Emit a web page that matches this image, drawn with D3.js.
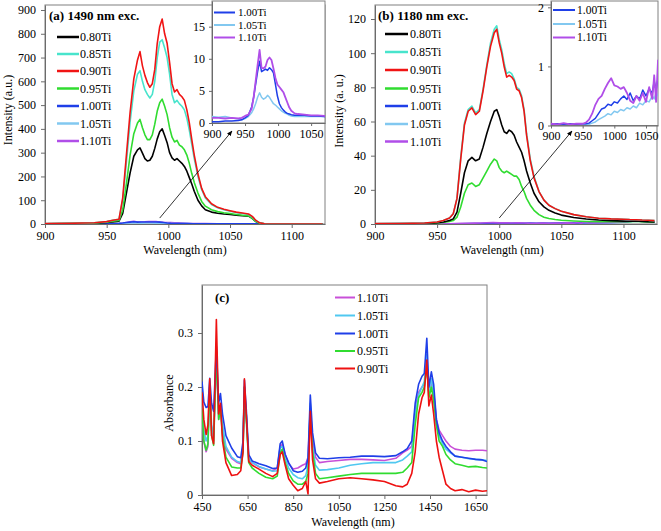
<!DOCTYPE html>
<html><head><meta charset="utf-8">
<script src="https://cdn.jsdelivr.net/npm/d3@7"></script>
<style>
body{margin:0;background:#fff}
text{font-family:"Liberation Serif","Times New Roman",serif;fill:#000}
</style>
</head><body><script>
// ---------------- DATA ----------------
const seriesNames = ["0.80Ti","0.85Ti","0.90Ti","0.95Ti","1.00Ti","1.05Ti","1.10Ti"];
const seriesColors = {"0.80Ti":"#000000","0.85Ti":"#48e4cc","0.90Ti":"#f01414","0.95Ti":"#30dc30","1.00Ti":"#1f3fe8","1.05Ti":"#82c8f0","1.10Ti":"#b04ee8"};
const colorsC = {"1.10Ti":"#c850d8","1.05Ti":"#50c8f0","1.00Ti":"#1f3fe8","0.95Ti":"#30dc30","0.90Ti":"#ee1111"};

// Panel (a) 1490 nm excitation
const waveA = [900,920,940,950,955,960,963,966,969,972,975,977,979,981,983,985,987,989,991,993,995,997,999,1001,1003,1005,1007,1009,1011,1013,1015,1017,1019,1021,1024,1027,1030,1035,1040,1045,1050,1055,1060,1065,1068,1071,1074,1078,1090,1110,1125];
const a080 = [1,2,3,6,9, 12,45,130,215,285, 312,320,298,275,265, 268,285,318,358,388, 400,372,342,300,278, 268,275,265,255,242, 222,195,168,138,100, 76,60,50,45,42, 40,37,35,33,24, 10,3,1,0,0, 0];
const a085 = [2,3,5,10,16, 20,100,260,430,560, 630,645,600,565,545, 530,545,600,700,765, 775,740,700,630,545, 510,520,505,495,480, 445,395,335,275,200, 145,110,82,68,60, 54,48,44,40,30, 14,5,1,0,0, 0];
const a090 = [2,3,5,10,16, 20,110,290,470,610, 690,725,665,625,595, 575,590,650,760,830, 862,800,760,680,590, 555,565,545,535,520, 480,425,355,290,210, 150,115,85,70,62, 56,50,46,42,32, 15,5,1,0,0, 0];
const a095 = [1,2,4,8,12, 15,60,170,290,380, 425,440,405,375,355, 355,375,420,475,510, 525,495,460,405,365, 345,352,332,325,312, 290,255,212,175,130, 95,75,60,52,47, 44,40,37,34,24, 10,3,1,0,0, 0];
const waveALow = [900,910,920,930,940,945,950,955,960,963,966,969,972,975,978,981,984,987,990,993,996,999,1002,1005,1008,1011,1014,1017,1020,1025,1030,1040,1050,1060,1070,1080,1100,1125];
const a100 = [0.2,0.2,0.3,0.3,0.4, 0.5,0.8,1.2,2.5,4, 6,8,9.6,8,8.2, 8.4,8.2,8.6,8.3,7.8, 6,4.2,3,2.4,2, 1.7,1.5,1.4,1.3,1.2, 1.2,1.2,1.1,1.1,1.0, 0.9,0.4,0.2];
const a105 = [1.0,0.9,1.0,0.8,0.6, 0.5,0.7,1.0,1.6,2.2, 3,4,4.7,4,3.7, 3.9,4.3,4,3.5,3, 2.8,2.5,2.2,1.9,1.7, 1.5,1.4,1.2,1.1,1.0, 1.0,1.0,1.0,1.0,1.0, 0.9,0.4,0.2];
const a110 = [0.8,0.8,0.7,0.8,0.7, 0.8,1.1,1.3,2.2,4, 6.5,9,11.4,8.6,8.5, 8.8,9.8,10.2,9.8,8.5, 7,6,5.6,5.2,4.8, 4,3.2,2.4,1.9,1.5, 1.4,1.3,1.2,1.2,1.1, 1.0,0.5,0.3];

// Panel (b) 1180 nm excitation
const waveB = [900,920,940,950,955,960,963,966,969,972,975,978,981,984,987,990,993,996,998,1000,1002,1004,1006,1008,1010,1012,1014,1016,1018,1020,1022,1025,1028,1032,1036,1040,1045,1050,1060,1070,1080,1090,1100,1105,1110,1115,1120,1125];
const b080 = [0.1,0.2,0.4,0.8,1.2, 2,3,7,18,30, 37,39,37,38,45, 53,60,66,67,63, 58,54,53,55,54, 52,48,45,42,37, 31,24,18,13,10, 8,6.5,5.2,3.8,2.9, 2.3,2,1.7,1.6,1.8, 1.5,1.3,1.2];
const b085 = [0.2,0.3,0.6,1.2,2, 3.5,6,15,39,59, 67,69,65,67,79, 93,106,114,116,108, 102,94,88,89,88, 85,80,79,75,67, 53,38,28,19,14, 11,9,7.5,5.5,4.2, 3.4,3,2.8,2.6,2.5, 2.3,2.2,2];
const b090 = [0.2,0.3,0.6,1.2,2, 3.5,6,15,38,58, 66,68,64,66,78, 92,104,112,114,106, 100,92,86,87,86, 84,79,78,74,66, 52,37,27,19,14, 11,9,7.5,5.5,4.2, 3.4,3,2.8,2.6,2.5, 2.3,2.2,2];
const b095 = [0.1,0.15,0.3,0.6,0.9, 1.5,2,4,10,18, 23,24,22,23,27, 31,35,38,37,33, 31,30,31,30,29, 28,28,26,22,19, 15,11,8,5.5,4, 3.2,2.6,2.2,1.8,1.5, 1.4,1.3,1.3,1.4,1.6, 1.4,1.2,1];
const waveBLow = [900,910,920,930,940,950,955,960,965,970,975,980,985,990,995,1000,1005,1010,1015,1020,1025,1030,1035,1040,1045,1050,1055,1060,1063,1066,1069,1072,1080,1090,1100,1105,1110,1115,1120,1125];
const b100 = [0.02,0.03,0.02,0.03,0.02,0.03, 0.03,0.04,0.08,0.12,0.2, 0.28,0.3,0.36,0.34,0.4, 0.38,0.45,0.5,0.44,0.55, 0.42,0.5,0.45,0.6,0.5, 0.62,0.55,0.75,0.6,0.8, 0.7,0.8,0.9,1.1,1.5, 1.8,1.6,1.3,1.0];
const b105 = [0.02,0.03,0.02,0.02,0.03,0.02, 0.02,0.02,0.04,0.06,0.1, 0.13,0.16,0.2,0.18,0.24, 0.22,0.27,0.25,0.3,0.28, 0.33,0.3,0.38,0.35,0.42, 0.4,0.5,0.45,0.55,0.5, 0.6,0.7,0.8,1.0,1.3, 1.6,1.5,1.2,0.9];
const b110 = [0.03,0.02,0.04,0.02,0.03,0.03, 0.05,0.1,0.2,0.35,0.45, 0.5,0.62,0.72,0.8,0.68, 0.66,0.62,0.65,0.55,0.42, 0.38,0.5,0.42,0.55,0.4, 0.65,0.45,0.85,0.4,1.1, 0.6,0.8,0.9,1.2,1.6, 2.0,1.8,1.5,1.2];

// Panel (c) absorbance
const waveC = [450,458,468,476,484,492,501,513,523,531,540,555,580,605,620,630,636,644,655,670,700,730,760,780,793,802,815,830,850,870,890,905,915,925,935,948,965,1000,1050,1100,1150,1200,1250,1300,1330,1350,1370,1385,1400,1415,1425,1436,1445,1456,1466,1478,1490,1505,1520,1540,1560,1590,1620,1650,1680,1700];
const c110 = [0.16,0.1,0.08,0.09,0.2, 0.12,0.1,0.26,0.14,0.16, 0.12,0.085,0.068,0.06,0.058, 0.09,0.2,0.15,0.065,0.06, 0.052,0.048,0.045,0.05,0.09, 0.094,0.075,0.058,0.048,0.05, 0.055,0.058,0.07,0.16,0.1, 0.07,0.06,0.062,0.064,0.066, 0.066,0.065,0.064,0.068,0.078, 0.083,0.09,0.16,0.19,0.2, 0.205,0.24,0.19,0.21,0.19, 0.14,0.12,0.11,0.1,0.09, 0.085,0.083,0.082,0.083,0.083, 0.082];
const c105 = [0.18,0.12,0.1,0.11,0.2, 0.13,0.11,0.27,0.15,0.165, 0.13,0.09,0.07,0.062,0.06, 0.09,0.2,0.15,0.068,0.06, 0.053,0.048,0.044,0.045,0.088, 0.09,0.068,0.05,0.038,0.032, 0.03,0.036,0.055,0.17,0.09, 0.055,0.046,0.047,0.05,0.055, 0.058,0.06,0.06,0.06,0.065, 0.072,0.08,0.15,0.185,0.2, 0.21,0.26,0.19,0.215,0.19, 0.13,0.11,0.095,0.085,0.078, 0.072,0.07,0.067,0.066,0.065, 0.064];
const c100 = [0.21,0.172,0.162,0.164,0.216, 0.17,0.155,0.275,0.17,0.188, 0.15,0.11,0.087,0.071,0.069, 0.1,0.213,0.16,0.075,0.063, 0.058,0.054,0.049,0.05,0.095, 0.1,0.075,0.06,0.045,0.042, 0.044,0.05,0.068,0.185,0.115, 0.078,0.068,0.067,0.069,0.07, 0.072,0.072,0.071,0.073,0.08, 0.086,0.1,0.17,0.205,0.22, 0.225,0.29,0.2,0.228,0.205, 0.14,0.115,0.1,0.09,0.08, 0.072,0.07,0.068,0.066,0.065, 0.062];
const c095 = [0.16,0.1,0.083,0.095,0.205, 0.11,0.092,0.265,0.14,0.16, 0.11,0.07,0.052,0.05,0.05, 0.08,0.2,0.14,0.06,0.05, 0.04,0.033,0.03,0.035,0.078, 0.085,0.06,0.04,0.026,0.02, 0.02,0.025,0.04,0.16,0.08, 0.04,0.03,0.032,0.035,0.038, 0.04,0.04,0.04,0.04,0.042, 0.05,0.06,0.13,0.18,0.19, 0.2,0.24,0.18,0.2,0.175, 0.13,0.1,0.09,0.075,0.065, 0.058,0.055,0.052,0.053,0.051, 0.05];
const c090 = [0.19,0.14,0.112,0.13,0.215, 0.11,0.095,0.325,0.15,0.17, 0.1,0.06,0.036,0.038,0.045, 0.08,0.215,0.15,0.062,0.055, 0.048,0.04,0.034,0.04,0.075, 0.08,0.055,0.03,0.018,0.008, 0.012,0.025,0.002,0.155,0.065, 0.03,0.022,0.025,0.03,0.032, 0.03,0.028,0.025,0.017,0.015, 0.02,0.04,0.08,0.15,0.18, 0.19,0.25,0.165,0.185,0.15, 0.1,0.07,0.045,0.02,0.012, 0.008,0.01,0.006,0.009,0.007, 0.008];

// Tick values
const ticksMainX = [900,950,1000,1050,1100];
const ticksAY = [0,100,200,300,400,500,600,700,800,900];
const ticksBY = [0,20,40,60,80,100,120];
const ticksInsetX = [900,950,1000,1050];
const ticksInsetAY = [0,5,10,15];
const ticksInsetBY = [0,1,2];
const ticksCX = [450,650,850,1050,1250,1450,1650];
const ticksCY = [0,0.1,0.2,0.3];

// ---------------- DRAWING ----------------
const svg = d3.select("body").append("svg").attr("width",661).attr("height",531);
const defs = svg.append("defs");
defs.append("marker").attr("id","arr").attr("viewBox","0 0 10 10").attr("refX",9).attr("refY",5)
  .attr("markerWidth",7).attr("markerHeight",7).attr("orient","auto")
  .append("path").attr("d","M0,1 L10,5 L0,9 z").attr("fill","#000");

let clipId = 0;
function makePanel(c) {
  const g = svg.append("g");
  const x = d3.scaleLinear().domain(c.xd).range([c.l, c.r]);
  const y = d3.scaleLinear().domain(c.yd).range([c.b, c.t]);
  g.append("rect").attr("x",c.l).attr("y",c.t).attr("width",c.r-c.l).attr("height",c.b-c.t)
    .attr("fill","#fff").attr("stroke","#808080").attr("stroke-width",1);
  const id = "clip"+(clipId++);
  defs.append("clipPath").attr("id",id).append("rect").attr("x",c.l).attr("y",c.t).attr("width",c.r-c.l).attr("height",c.b-c.t);
  const ax = g.append("g").attr("transform",`translate(0,${c.b})`)
    .call(d3.axisBottom(x).tickValues(c.xt).tickSize(c.ts).tickSizeOuter(0).tickPadding(c.xp).tickFormat(d3.format("d")));
  const ay = g.append("g").attr("transform",`translate(${c.l},0)`)
    .call(d3.axisLeft(y).tickValues(c.yt).tickSize(c.ts).tickSizeOuter(0).tickPadding(c.yp).tickFormat(c.yf || d3.format("d")));
  [ax,ay].forEach(a=>{
    a.select(".domain").attr("stroke","#6b6b6b");
    a.selectAll(".tick line").attr("stroke","#6b6b6b");
    a.selectAll(".tick text").attr("font-size",c.fs||12).attr("fill","#000")
      .style("font-family",'"Liberation Serif","Times New Roman",serif');
  });
  const plot = g.append("g").attr("clip-path",`url(#${id})`);
  return {g, x, y, plot};
}
function drawLine(p, xs, ys, color, w) {
  const pts = xs.map((d,i)=>[d, ys[i]]);
  p.plot.append("path").datum(pts).attr("fill","none").attr("stroke",color)
    .attr("stroke-width",w||1.6).attr("stroke-linejoin","round")
    .attr("d", d3.line().x(d=>p.x(d[0])).y(d=>p.y(d[1])));
}
function legend(items, colors, x0, x1, tx, rows, sw, fs) {
  items.forEach((name,i)=>{
    svg.append("line").attr("x1",x0).attr("x2",x1).attr("y1",rows[i]).attr("y2",rows[i])
      .attr("stroke",colors[name]).attr("stroke-width",sw);
    svg.append("text").attr("x",tx).attr("y",rows[i]+(fs||12)/3).attr("font-size",fs||12).text(name);
  });
}

// ---- Panel (a) ----
const pa = makePanel({l:45,r:325,t:5,b:224,xd:[900,1127],yd:[0,921],xt:ticksMainX,yt:ticksAY,ts:4,xp:3,yp:5});
drawLine(pa, waveALow, a110, seriesColors["1.10Ti"]);
drawLine(pa, waveALow, a105, seriesColors["1.05Ti"]);
drawLine(pa, waveALow, a100, seriesColors["1.00Ti"]);
drawLine(pa, waveA, a080, seriesColors["0.80Ti"]);
drawLine(pa, waveA, a095, seriesColors["0.95Ti"]);
drawLine(pa, waveA, a085, seriesColors["0.85Ti"]);
drawLine(pa, waveA, a090, seriesColors["0.90Ti"]);
svg.append("text").attr("x",49).attr("y",20).attr("font-size",13).attr("font-weight","bold").text("(a) 1490 nm exc.");
legend(seriesNames, seriesColors, 57, 79, 80, [37,54,71,88.5,106,123.5,141], 2.5);
svg.append("text").attr("x",185).attr("y",254).attr("font-size",12).attr("text-anchor","middle").text("Wavelength (nm)");
svg.append("text").attr("transform","translate(12,110) rotate(-90)").attr("font-size",12).attr("text-anchor","middle").text("Intensity (a.u.)");
// arrow (a)
svg.append("line").attr("x1",pa.x(993)).attr("y1",pa.y(25)).attr("x2",232).attr("y2",131)
  .attr("stroke","#000").attr("stroke-width",0.8).attr("marker-end","url(#arr)");

// inset (a)
const ia = makePanel({l:212,r:325,t:1,b:123,xd:[900,1071],yd:[0,19],xt:ticksInsetX,yt:ticksInsetAY,ts:3,xp:3,yp:4});
drawLine(ia, waveALow, a105, seriesColors["1.05Ti"], 1.5);
drawLine(ia, waveALow, a100, seriesColors["1.00Ti"], 1.5);
drawLine(ia, waveALow, a110, seriesColors["1.10Ti"], 1.8);
legend(["1.00Ti","1.05Ti","1.10Ti"], seriesColors, 214, 235, 238, [12.5,25,37.5], 2, 11);

// ---- Panel (b) ----
const pb = makePanel({l:375,r:657,t:5,b:224,xd:[900,1127],yd:[0,128.2],xt:ticksMainX,yt:ticksBY,ts:4,xp:3,yp:5});
drawLine(pb, waveBLow, b105, seriesColors["1.05Ti"]);
drawLine(pb, waveBLow, b100, seriesColors["1.00Ti"]);
drawLine(pb, waveBLow, b110, seriesColors["1.10Ti"]);
drawLine(pb, waveB, b095, seriesColors["0.95Ti"]);
drawLine(pb, waveB, b080, seriesColors["0.80Ti"]);
drawLine(pb, waveB, b085, seriesColors["0.85Ti"]);
drawLine(pb, waveB, b090, seriesColors["0.90Ti"]);
svg.append("text").attr("x",378).attr("y",20).attr("font-size",13).attr("font-weight","bold").text("(b) 1180 nm exc.");
legend(seriesNames, seriesColors, 385, 408, 410, [34,52,70,88.5,106,124,141.5], 2.5);
svg.append("text").attr("x",502).attr("y",254).attr("font-size",12).attr("text-anchor","middle").text("Wavelength (nm)");
svg.append("text").attr("transform","translate(343,111) rotate(-90)").attr("font-size",12).attr("text-anchor","middle").text("Intensity (a. u.)");
svg.append("line").attr("x1",pb.x(1000)).attr("y1",pb.y(3.5)).attr("x2",572).attr("y2",131)
  .attr("stroke","#000").attr("stroke-width",0.8).attr("marker-end","url(#arr)");

// inset (b)
const ib = makePanel({l:551,r:658,t:1,b:125.5,xd:[900,1069],yd:[0,2.107],xt:ticksInsetX,yt:ticksInsetBY,ts:3,xp:3,yp:4});
drawLine(ib, waveBLow, b105, seriesColors["1.05Ti"], 1.5);
drawLine(ib, waveBLow, b100, seriesColors["1.00Ti"], 1.5);
drawLine(ib, waveBLow, b110, seriesColors["1.10Ti"], 1.8);
legend(["1.00Ti","1.05Ti","1.10Ti"], seriesColors, 553, 575, 577, [10,24,37.5], 2, 11.5);

// ---- Panel (c) ----
const pc = makePanel({l:202,r:487,t:285,b:495,xd:[450,1700],yd:[0,0.3889],xt:ticksCX,yt:ticksCY,ts:4,xp:3,yp:5,
  yf:d=>d===0?"0":d3.format(".1f")(d)});
drawLine(pc, waveC, c110, colorsC["1.10Ti"]);
drawLine(pc, waveC, c105, colorsC["1.05Ti"]);
drawLine(pc, waveC, c095, colorsC["0.95Ti"]);
drawLine(pc, waveC, c100, colorsC["1.00Ti"]);
drawLine(pc, waveC, c090, colorsC["0.90Ti"]);
svg.append("text").attr("x",215).attr("y",302).attr("font-size",13).attr("font-weight","bold").text("(c)");
legend(["1.10Ti","1.05Ti","1.00Ti","0.95Ti","0.90Ti"], colorsC, 335, 355, 357, [297.5,315.5,333.5,351,368.5], 2);
svg.append("text").attr("x",353).attr("y",526).attr("font-size",12).attr("text-anchor","middle").text("Wavelength (nm)");
svg.append("text").attr("transform","translate(173,403) rotate(-90)").attr("font-size",12).attr("text-anchor","middle").text("Absorbance");
</script></body></html>
